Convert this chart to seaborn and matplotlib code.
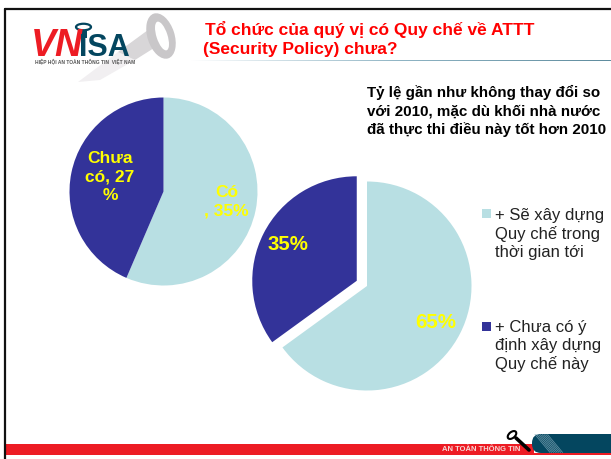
import matplotlib
matplotlib.use("Agg")
import matplotlib.pyplot as plt
import matplotlib.patches as mp
from matplotlib.colors import LinearSegmentedColormap
import numpy as np
import seaborn as sns

left_labels = ["Có\n, 35%", "Chưa\ncó, 27\n%"]
left_values = [35, 27]
right_labels = ["65%", "35%"]
right_values = [65, 35]
legend_labels = ["+ Sẽ xây dựng\nQuy chế trong\nthời gian tới", "+ Chưa có ý\nđịnh xây dựng\nQuy chế này"]
title_lines = ["Tổ chức của quý vị có Quy chế về ATTT", "(Security Policy) chưa?"]
note_lines = ["Tỷ lệ gần như không thay đổi so", "với 2010, mặc dù khối nhà nước", "đã thực thi điều này tốt hơn 2010"]
palette = sns.color_palette(["#B8DFE3", "#333399"])

sns.set_theme(style="white")
plt.rcParams["font.family"] = ["Liberation Sans", "DejaVu Sans"]

W, H = 611, 459
fig = plt.figure(figsize=(W / 100, H / 100), dpi=100, facecolor="white")

def pixel_axes(z):
    ax = fig.add_axes([0, 0, 1, 1], zorder=z)
    ax.set_xlim(0, W)
    ax.set_ylim(H, 0)
    ax.axis("off")
    ax.patch.set_alpha(0)
    return ax

bg = pixel_axes(0)
top = pixel_axes(5)

def pie_axes(cx, cy, r):
    s = r * 1.25
    ax = fig.add_axes([(cx - s) / W, 1 - (cy + s) / H, 2 * s / W, 2 * s / H], zorder=2)
    ax.patch.set_alpha(0)
    return ax

wp = dict(linewidth=0)
a1 = pie_axes(163.5, 191.5, 94)
a1.pie(left_values, colors=palette, startangle=90, counterclock=False, wedgeprops=wp)
a2 = pie_axes(367, 286, 104.5)
a2.pie(right_values, colors=palette, startangle=90, counterclock=False, explode=[0, 0.11], wedgeprops=wp)

# frame
bg.plot([4.5, 4.5], [459, 9], color="#111111", lw=1.6)
bg.plot([4.5, 611], [9.3, 9.3], color="#111111", lw=1.6)

# footer
bg.add_patch(mp.Rectangle((4, 444), 530, 10.5, color="#ED1C24", lw=0))
bg.add_patch(mp.FancyBboxPatch((532, 434), 100, 19, boxstyle="round,pad=0,rounding_size=9",
                               fc="#04465F", ec="none"))
for i in range(8):
    bg.plot([535 + i * 1.8, 550 + i * 1.8], [434.5, 452.5], color="#6F9AAB", lw=0.5)
bg.add_patch(mp.Rectangle((525, 453), 86, 1.5, color="#ED1C24", lw=0))
top.text(442.5, 449.5, "AN TOÀN THÔNG TIN", color="#F6D9D6", fontsize=5.5, fontweight="bold", va="center", ha="left")
bg.plot([516, 529], [438, 450], color="black", lw=2.6, solid_capstyle="round")
bg.add_patch(mp.Ellipse((512, 435), 10, 6, angle=-40, fc="white", ec="black", lw=1.5))

# key logo
bg.add_patch(mp.Polygon([[78, 82], [118, 52], [135, 60], [100, 80]], fc="#F1EFF1", ec="none"))
bg.add_patch(mp.Polygon([[118, 52], [148, 30], [154, 48], [135, 60]], fc="#D8D6D8", ec="none"))
bg.add_patch(mp.Ellipse((161, 36), 27, 47, angle=-18, fc="#C9C7C9", ec="none"))
bg.add_patch(mp.Ellipse((162, 36), 11, 30, angle=-18, fc="white", ec="none"))
bg.text(30.5, 46, "VN", color="#ED1C24", fontsize=27, fontweight="bold", style="italic", va="center", ha="left")
bg.text(79, 47.5, "ISA", color="#04465F", fontsize=22, fontweight="bold", va="center", ha="left")
bg.add_patch(mp.Rectangle((81, 30), 5.5, 8, color="#04465F", lw=0))
bg.add_patch(mp.Ellipse((83.5, 27), 15, 6.5, fc="white", ec="#04465F", lw=1.6))
top.text(35, 61.5, "HIỆP HỘI AN TOÀN THÔNG TIN  VIỆT NAM", color="#555555", fontsize=3.5, va="center", ha="left", fontweight="bold")
bg.imshow(np.linspace(0, 1, 256)[None, :], extent=(190, 611, 60.8, 59.8), aspect="auto",
          cmap=LinearSegmentedColormap.from_list("l", ["#FFFFFF", "#8FB4C4", "#5F8C9E"]), zorder=1)
bg.set_xlim(0, W)
bg.set_ylim(H, 0)

# title
top.text(205, 30, title_lines[0], color="#FF0000", fontsize=12.5, fontweight="bold", va="center", ha="left")
top.text(203, 49.5, title_lines[1], color="#FF0000", fontsize=12.5, fontweight="bold", va="center", ha="left")

# note
for y, t in zip([92, 111, 129.5], note_lines):
    top.text(367, y, t, color="black", fontsize=10.9, fontweight="bold", va="center", ha="left")

# pie labels
def lab(x, y, t, c, fs=12.5, ls=1.0):
    top.text(x, y, t, color=c, fontsize=fs, fontweight="bold", ha="center", va="center", linespacing=ls)

lab(226.5, 202, left_labels[0], "#FFFF00", ls=1.3)
lab(110, 177, left_labels[1], "#FFFF00", ls=1.3)
lab(436, 323, right_labels[0], "#FFFF00", 14.7)
lab(288, 245, right_labels[1], "#FFFF00", 14.7)

# legend
bg.add_patch(mp.Rectangle((482, 209), 9, 9, color=palette[0], lw=0))
bg.add_patch(mp.Rectangle((482, 322), 9, 9, color=palette[1], lw=0))
top.text(495, 234, legend_labels[0], fontsize=12, color="#222222", va="center", ha="left", linespacing=1.22)
top.text(495, 346, legend_labels[1], fontsize=12, color="#222222", va="center", ha="left", linespacing=1.27)

fig.savefig("out.png", dpi=100)
